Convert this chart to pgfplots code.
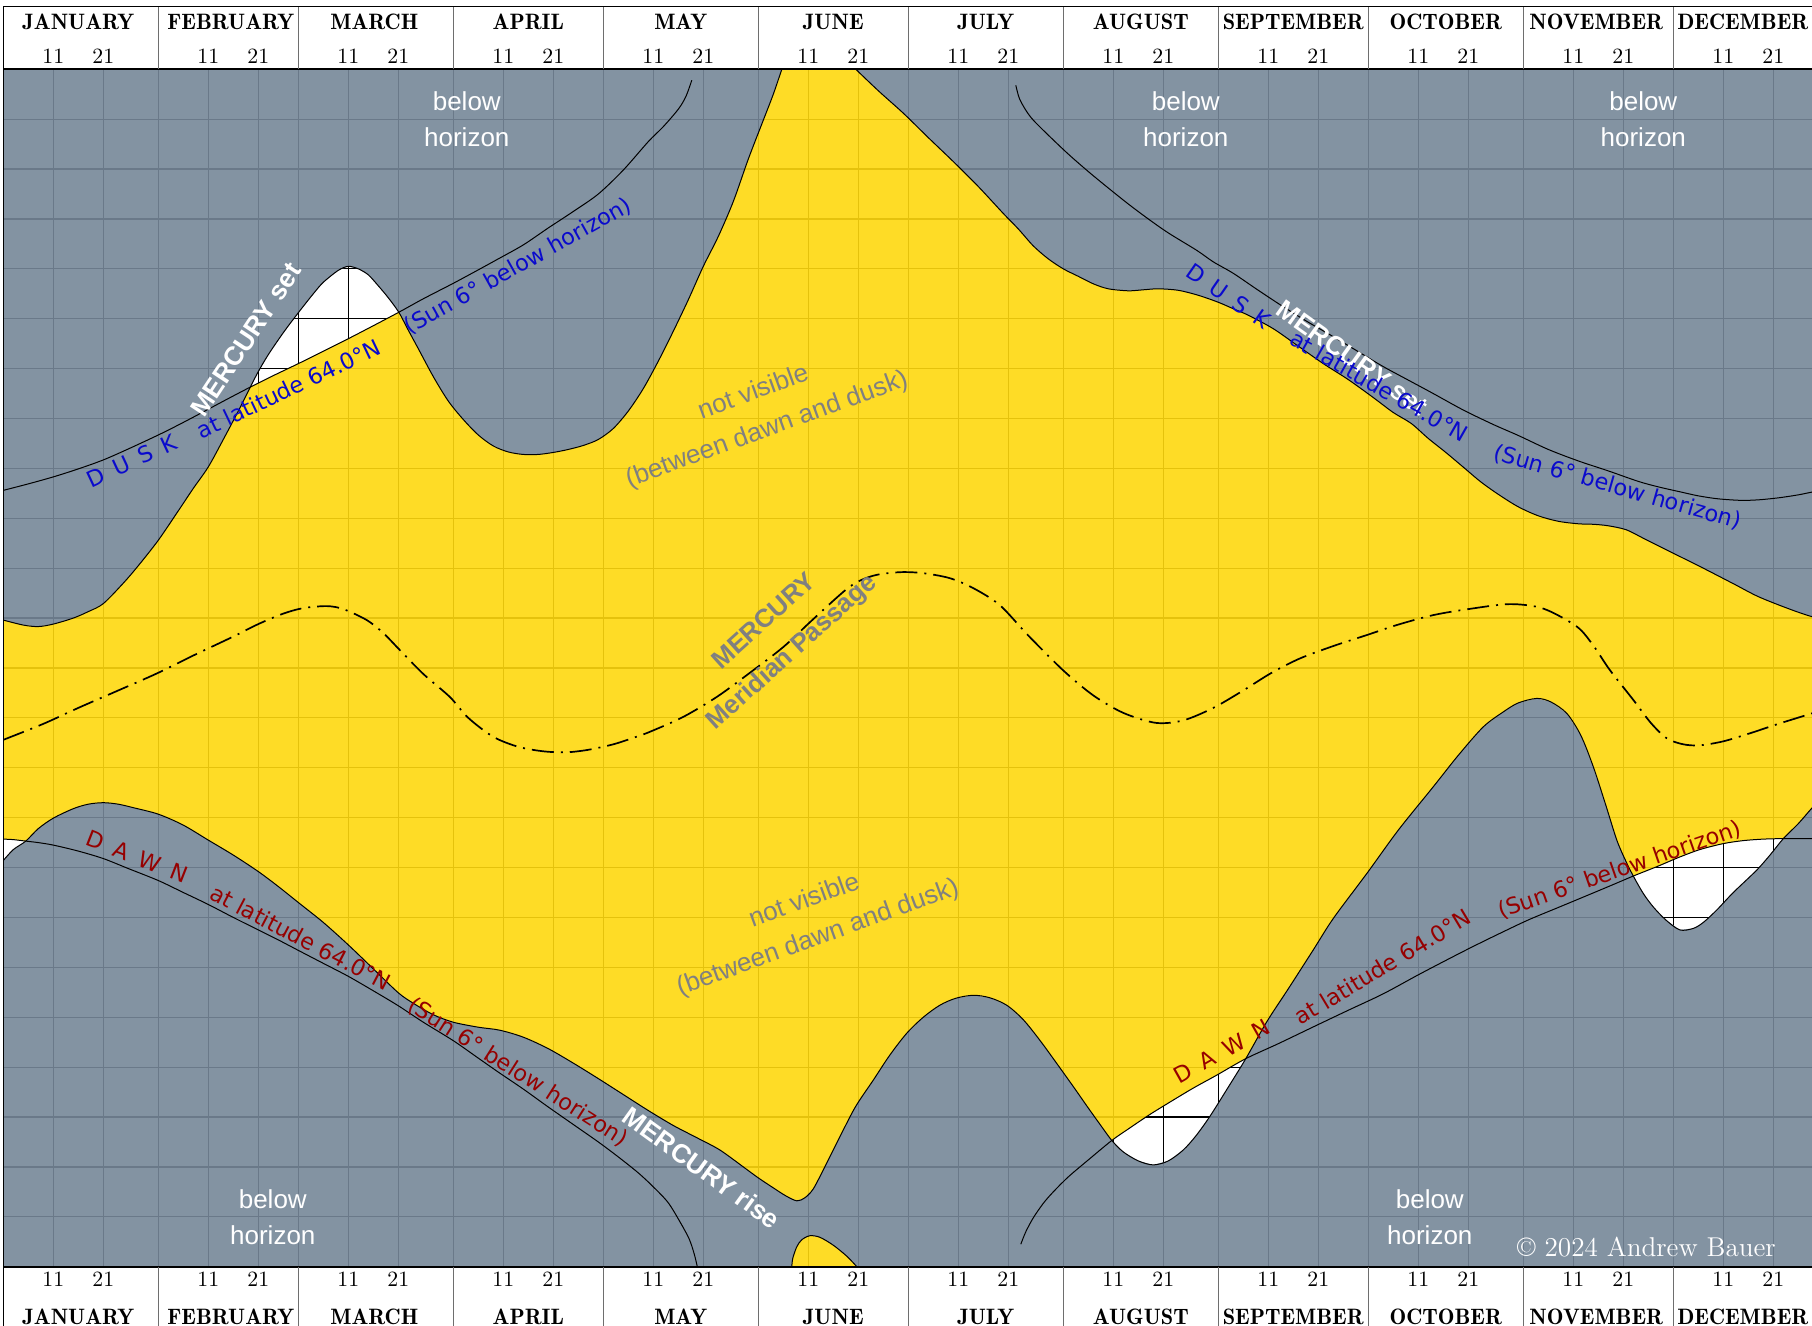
\documentclass[border=0pt]{standalone}
\usepackage{fontspec}
\usepackage{graphicx}
\usepackage{pgfplots}
\pgfplotsset{compat=1.18}
\usepgfplotslibrary{fillbetween}
\newfontfamily\helv{Liberation Sans}
\newfontfamily\dejavu{DejaVu Sans}
\newfontfamily\lmdemi{lmromandemi10-regular.otf}
\definecolor{skyg}{RGB}{118,135,152}
\definecolor{sunY}{RGB}{254,216,14}
\definecolor{dblue}{RGB}{10,10,205}
\definecolor{dred}{RGB}{150,0,0}
\definecolor{txtg}{RGB}{128,128,128}
\definecolor{sepg}{RGB}{110,110,110}

% ---------- data (day of year, hour) ----------
% Mercury set
\def\Sa{(0,12.96) (4,12.86) (7,12.83) (10,12.88) (14,13.0) (17,13.13) (20,13.29) (24,13.7) (27,14.05) (31,14.56) (35,15.15) (38,15.6) (41,16.03) (44,16.58) (47,17.15) }
\def\Ja{(49.4,17.63) }
\def\Sb{(51,17.94) (53,18.28) (56,18.72) (59,19.12) (62,19.5) (64,19.73) (67,19.97) (69,20.05) (71,20.0) (73,19.88) (75,19.66) (77,19.42) }
\def\Jb{(79.1,19.13) }
\def\Sc{(81,18.77) (83,18.4) (86,17.84) (89,17.35) (92,16.98) (95,16.67) (98,16.45) (101,16.33) (104,16.28) (107,16.28) (110,16.32) (113,16.38) (116,16.46) (119,16.58) (122,16.8) (125,17.15) (128,17.6) (131,18.15) (134,18.75) (137,19.38) (140,20.05) (143,20.65) (146,21.35) (149,22.2) (152,22.98) (154,23.5) (155.7,24) }
\def\Sbump{(157.7,0) (157.9,0.17) (158.7,0.4) (159.7,0.54) (161.3,0.62) (163.3,0.59) (166,0.43) (168.7,0.21) (170.7,0) }
\def\Sbumprev{(170.7,0) (168.7,0.21) (166,0.43) (163.3,0.59) (161.3,0.62) (159.7,0.54) (158.7,0.4) (157.9,0.17) (157.7,0) }
\def\St{(170.5,24) (175,23.57) (180,23.12) (185,22.63) (190,22.15) (195,21.65) (200,21.11) (203,20.8) (206,20.46) (209,20.2) (212,20.0) (215,19.85) (218,19.7) (221,19.6) (225,19.56) (228,19.58) (231,19.6) (235,19.57) (239,19.47) (243,19.33) (246,19.2) (249,19.07) (254,18.8) (259,18.45) (264,18.1) (269,17.78) (274,17.42) (278,17.12) (281.6,16.9) (285,16.6) (288.5,16.32) (292.3,16.0) (295.5,15.73) (299,15.48) (303,15.23) (307,15.05) (311,14.94) (315,14.89) (318,14.88) (321,14.85) (324.6,14.77) (328,14.6) (331,14.45) (335.4,14.23) (340,14.0) (346,13.69) (351,13.43) (357,13.19) (361.7,13.03) (365,12.98) }
% Dusk (Sun 6 deg below horizon)
\def\Ka{(0,15.56) (5,15.69) (10,15.83) (15,15.99) (20,16.17) (25,16.39) (31,16.67) (35,16.87) (39,17.08) (45,17.4) }
\def\Kb{(54,17.86) (59,18.1) (64,18.35) (69,18.6) (74,18.86) }
\def\Kc{(84,19.4) (90,19.71) (95,19.98) (99,20.2) (104,20.48) (109,20.82) (114,21.15) (119,21.5) (124,21.98) (129,22.55) (132,22.85) (135,23.2) (136.5,23.45) (137.7,23.78) }
\def\Kt{(202.5,23.68) (203.2,23.42) (204.5,23.18) (206,22.98) (209,22.68) (213,22.3) (217,21.95) (221,21.62) (225,21.3) (229,21.0) (233,20.72) (238.7,20.37) (242,20.14) (246,19.91) (251,19.57) (256,19.24) (261,18.93) (266,18.64) (271,18.34) (276,18.04) (281,17.77) (286,17.5) (292,17.17) (298,16.88) (303,16.66) (309,16.38) (315,16.15) (321,15.95) (327,15.74) (331,15.63) (335.4,15.53) (339,15.45) (343,15.39) (347.5,15.36) (351,15.37) (355,15.41) (359,15.47) (362,15.53) (365,15.57) }
% Dawn
\def\Da{(0,8.57) (2,8.56) }
\def\Pa{(4.5,8.53) }
\def\Db{(7,8.5) (10,8.45) (15,8.33) (20,8.18) (25,7.98) (31,7.74) (36,7.5) (41,7.26) (46,7.0) (51,6.75) (55,6.55) (59,6.34) (64,6.08) (69,5.82) (74,5.53) (79,5.23) (84,4.9) (90,4.53) (95,4.18) (99,3.9) (104,3.56) (109,3.2) (114,2.85) (119,2.5) (123,2.2) (127,1.88) (130,1.6) (133,1.28) (135.5,0.87) (137.2,0.55) (138.2,0.25) (138.8,0) }
\def\Dta{(203.5,0.45) (204.5,0.7) (206,0.98) (208,1.27) (210,1.5) (213,1.8) (217,2.14) }
\def\Pb{(221.7,2.53) }
\def\Dtb{(225,2.76) (229.3,3.05) (234,3.34) (238,3.58) (242.7,3.84) }
\def\Pc{(248.5,4.17) }
\def\Dtc{(255,4.47) (262.7,4.84) (269,5.14) (276,5.47) (283,5.85) (289.3,6.18) (294,6.42) (299.3,6.68) (305,6.95) (311,7.2) (317,7.45) (322,7.66) }
\def\Pd{(326,7.83) }
\def\Dtd{(331,8.03) (335,8.2) (339.3,8.36) (344,8.48) (348,8.54) (352,8.57) }
\def\Pe{(356,8.58) }
\def\Dte{(361,8.58) (365,8.57) }
% Mercury rise
\def\Ra{(0,8.14) (2,8.36) }
\def\Rb{(7,8.78) (10,8.99) (14,9.18) (17,9.27) (20,9.3) (23,9.27) (26,9.2) (31,9.07) (36,8.85) (41,8.55) (46,8.25) (51,7.92) (55,7.62) (59,7.3) (64,6.9) (69,6.45) (74,5.97) (79,5.49) (82,5.28) (86,5.05) (90,4.9) (95,4.8) (99.3,4.74) (104,4.6) (109,4.37) (114,4.08) (119,3.77) (124,3.45) (129,3.13) (134,2.83) (139,2.57) (143.3,2.34) (148,2.0) (151,1.78) (154,1.58) (156.5,1.42) (158.7,1.32) (160.3,1.38) (162,1.56) (164.3,2.0) (166,2.34) (167.3,2.6) (170.4,3.2) (174,3.74) (177.3,4.24) (180.7,4.68) (184,5.0) (187.3,5.24) (190.5,5.38) (194,5.44) (197.3,5.39) (200.7,5.24) (204,4.95) (207.3,4.54) (210.5,4.1) (214,3.61) (217,3.18) (219.5,2.83) }
\def\Rc{(224,2.3) (227,2.12) (230,2.04) (233,2.12) (236,2.34) (238.5,2.62) (241.3,3.01) (245,3.6) }
\def\Rd{(252.7,4.91) (257,5.57) (262,6.35) (266,6.98) (272.7,7.88) (279,8.75) (286,9.62) (291,10.25) (296,10.82) (300,11.12) (303,11.3) (306.7,11.39) (309.5,11.32) (312.7,11.09) (315.5,10.65) (318,10.02) (320.5,9.25) (322.7,8.55) (324.5,8.13) }
\def\Re{(328,7.48) (330,7.21) (332.5,6.95) (335.3,6.75) (338,6.78) (340,6.9) (342.7,7.15) (346,7.5) (350.7,7.95) (353.5,8.27) }
\def\Rf{(359,8.88) (361.7,9.19) (365,9.55) }
% Meridian passage
\def\Mer{(0,10.56) (8,10.88) (15,11.2) (23,11.55) (30.7,11.89) (38,12.25) (46,12.63) (51,12.88) (56,13.09) (60,13.2) (64.7,13.24) (68,13.18) (72.7,12.96) (76,12.7) (79.3,12.36) (84,11.88) (89.3,11.42) (93,11.0) (98,10.62) (103,10.42) (108,10.33) (112.6,10.31) (117,10.36) (122,10.47) (126,10.6) (129.3,10.72) (136,11.02) (142.7,11.42) (149,11.88) (156,12.42) (162,12.98) (169.3,13.63) (174,13.85) (179.3,13.92) (184,13.9) (189.3,13.8) (194,13.6) (199.3,13.26) (205,12.65) (212,11.95) (218,11.45) (224,11.1) (230.5,10.9) (236,10.95) (242,11.2) (248,11.55) (253.6,11.9) (259.3,12.19) (266,12.44) (272.7,12.66) (279,12.87) (286,13.06) (293,13.18) (301.3,13.28) (308,13.19) (314.7,12.83) (318,12.45) (321.3,11.96) (326,11.36) (329.5,10.9) (332.7,10.59) (336,10.47) (339.3,10.45) (344,10.53) (349.3,10.69) (355,10.88) (361.7,11.09) (365,11.2) }

\tikzset{curve/.style={black, line width=0.5pt, smooth}}

\begin{document}
\begin{tikzpicture}
\begin{axis}[
  at={(0pt,0pt)}, anchor=south west,
  scale only axis, width=912.5pt, height=598.7pt,
  xmin=0, xmax=365, ymin=0, ymax=24,
  xtick={0,10,20,31,41,51,59,69,79,90,100,110,120,130,140,151,161,171,181,191,201,212,222,232,243,253,263,273,283,293,304,314,324,334,344,354,365},
  ytick={0,1,...,24},
  xticklabels={}, yticklabels={},
  major tick length=0pt,
  grid=major, major grid style={black, line width=0.6pt},
  axis line style={draw=none},
  no markers,
]
% gray: Mercury below horizon
\edef\tmp{\noexpand\addplot[draw=none, fill=skyg, fill opacity=0.9] coordinates {(0,24) \Sa\Ja\Sb\Jb\Sc};}\tmp
\edef\tmp{\noexpand\addplot[draw=none, fill=skyg, fill opacity=0.9] coordinates {\St (365,24)};}\tmp
\edef\tmp{\noexpand\addplot[draw=none, fill=skyg, fill opacity=0.9] coordinates {\Ra\Pa\Rb\Pb\Rc\Pc\Rd\Pd\Re\Pe\Rf (365,0) \Sbumprev (0,0)};}\tmp
% yellow: above horizon, between dawn and dusk
\edef\tmp{\noexpand\addplot[draw=none, name path=T] coordinates {\Sa\Ja\Kb\Jb\Sc\St};}\tmp
\edef\tmp{\noexpand\addplot[draw=none, name path=B] coordinates {\Da\Pa\Rb\Pb\Dtb\Pc\Rd\Pd\Dtd\Pe\Rf};}\tmp
\addplot[draw=none, fill=sunY, fill opacity=0.9] fill between[of=T and B];
\edef\tmp{\noexpand\addplot[draw=none, fill=sunY, fill opacity=0.9] coordinates {\Sbump};}\tmp
% curves
\edef\tmp{\noexpand\addplot[curve] coordinates {\Sa\Ja\Sb\Jb\Sc};}\tmp
\edef\tmp{\noexpand\addplot[curve] coordinates {\Sbump};}\tmp
\edef\tmp{\noexpand\addplot[curve] coordinates {\St};}\tmp
\edef\tmp{\noexpand\addplot[curve] coordinates {\Ka\Ja\Kb\Jb\Kc};}\tmp
\edef\tmp{\noexpand\addplot[curve] coordinates {\Kt};}\tmp
\edef\tmp{\noexpand\addplot[curve] coordinates {\Da\Pa\Db};}\tmp
\edef\tmp{\noexpand\addplot[curve] coordinates {\Dta\Pb\Dtb\Pc\Dtc\Pd\Dtd\Pe\Dte};}\tmp
\edef\tmp{\noexpand\addplot[curve] coordinates {\Ra\Pa\Rb\Pb\Rc\Pc\Rd\Pd\Re\Pe\Rf};}\tmp
\edef\tmp{\noexpand\addplot[black, line width=0.85pt, smooth, dash pattern=on 11pt off 3.5pt on 1pt off 3.5pt] coordinates {\Mer};}\tmp

% labels
\tikzset{bh/.style={font=\helv\fontsize{13}{18}\selectfont, text=white, align=center}}
\node[bh] at (axis cs:92.7,23.0) {below\\horizon};
\node[bh] at (axis cs:236.5,23.0) {below\\horizon};
\node[bh] at (axis cs:328,23.0) {below\\horizon};
\node[bh] at (axis cs:53.9,1.0) {below\\horizon};
\node[bh] at (axis cs:285.3,1.0) {below\\horizon};

\tikzset{ms/.style={font=\helv\bfseries\fontsize{13.2}{16}\selectfont, text=white}}
\node[ms, rotate=56.5] at (axis cs:48.5,18.58) {MERCURY set};
\node[ms, rotate=-35.6] at (axis cs:269.8,18.22) {MERCURY set};
\node[ms, rotate=-35.9] at (axis cs:139.7,1.98) {MERCURY rise};

\node[font=\helv\bfseries\fontsize{12.9}{20.7}\selectfont, text=txtg, align=center, rotate=42] at (axis cs:155.1,12.61) {MERCURY\\Meridian Passage};
\tikzset{nv/.style={font=\helv\fontsize{13}{19.6}\selectfont, text=txtg, align=center, rotate=20}}
\node[nv] at (axis cs:151.4,17.14) {not visible\\(between dawn and dusk)};
\node[nv] at (axis cs:161.6,6.95) {not visible\\(between dawn and dusk)};

\tikzset{bl/.style={font=\dejavu\fontsize{11.2}{13}\selectfont, text=dblue},
         rd/.style={font=\dejavu\fontsize{11.2}{13}\selectfont, text=dred}}
\def\dusk{D\hspace{0.5em}U\hspace{0.5em}S\hspace{0.5em}K}
\def\dawn{D\hspace{0.52em}A\hspace{0.52em}W\hspace{0.52em}N}
\node[bl, rotate=25] at (axis cs:25.7,16.15) {\dusk};
\node[bl, rotate=25.5] at (axis cs:57.1,17.6) {at latitude 64.0°N};
\node[bl, rotate=29.2] at (axis cs:103,20.05) {(Sun 6° below horizon)};
\node[bl, rotate=-34.7] at (axis cs:245,19.46) {\dusk};
\node[bl, rotate=-29.6] at (axis cs:275.2,17.65) {at latitude 64.0°N};
\node[bl, rotate=-15.9] at (axis cs:322.8,15.62) {(Sun 6° below horizon)};
\node[rd, rotate=-21.3] at (axis cs:26.8,8.22) {\dawn};
\node[rd, rotate=-27.6] at (axis cs:59.5,6.6) {at latitude 64.0°N};
\node[rd, rotate=-32.5] at (axis cs:102.9,3.9) {(Sun 6° below horizon)};
\node[rd, rotate=29.4] at (axis cs:243.7,4.31) {\dawn};
\node[rd, rotate=31] at (axis cs:275.8,6.01) {at latitude 64.0°N};
\node[rd, rotate=19.2] at (axis cs:323.3,7.95) {(Sun 6° below horizon)};

\node[font=\fontsize{13.6}{16}\selectfont, text=white, anchor=base west, inner sep=0pt] at (axis cs:302.7,0.21) {\textcopyright\ 2024 Andrew Bauer};
\end{axis}
\pgfresetboundingbox
\useasboundingbox (-1.65pt,-29.65pt) rectangle (904.35pt,633.35pt);

% frame and month strips (x unit = 1 day)
\begin{scope}[x=2.5pt, y=1pt]
\draw[line width=0.7pt] (0,-40) -- (0,630);
\draw[line width=0.7pt] (0,630) -- (370,630);
\draw[line width=1pt] (0,598.7) -- (370,598.7);
\draw[line width=1pt] (0,0) -- (370,0);
\foreach \d in {31,59,90,120,151,181,212,243,273,304,334} {
  \draw[sepg, line width=0.6pt] (\d,598.7) -- (\d,630);
  \draw[sepg, line width=0.6pt] (\d,0) -- (\d,-40);
}
\foreach \a/\c/\n in {0/15/JANUARY,31/45.5/FEBRUARY,59/74.2/MARCH,90/105/APRIL,120/135.5/MAY,151/166/JUNE,181/196.5/JULY,212/227.5/AUGUST,243/258/SEPTEMBER,273/288.5/OCTOBER,304/318.6/NOVEMBER,334/347.9/DECEMBER} {
  \node[anchor=base, inner sep=0pt, font=\lmdemi\fontsize{11.15}{13}\selectfont] at (\c,618.7) {\n};
  \node[anchor=base, inner sep=0pt, font=\lmdemi\fontsize{11.15}{13}\selectfont] at (\c,-29.15) {\n};
  \node[anchor=base, inner sep=0pt, font=\fontsize{10.9}{13}\selectfont] at ({\a+10},601.35) {11};
  \node[anchor=base, inner sep=0pt, font=\fontsize{10.9}{13}\selectfont] at ({\a+20},601.35) {21};
  \node[anchor=base, inner sep=0pt, font=\fontsize{10.9}{13}\selectfont] at ({\a+10},-10) {11};
  \node[anchor=base, inner sep=0pt, font=\fontsize{10.9}{13}\selectfont] at ({\a+20},-10) {21};
}
\end{scope}
\end{tikzpicture}
\end{document}
